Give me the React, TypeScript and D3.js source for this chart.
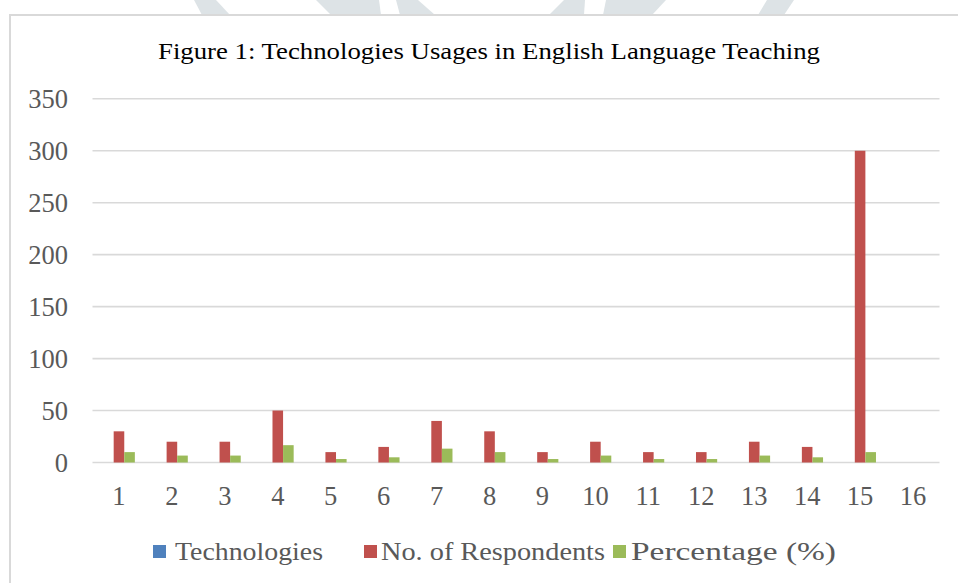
import React from 'react';
import * as d3 from 'd3';

const categories = ['1', '2', '3', '4', '5', '6', '7', '8', '9', '10', '11', '12', '13', '14', '15', '16'];
const seriesNames = ['Technologies', 'No. of Respondents', 'Percentage (%)'];
const seriesColors = ['#4F81BD', '#C0504D', '#9BBB59'];
const technologies = [0, 0, 0, 0, 0, 0, 0, 0, 0, 0, 0, 0, 0, 0, 0, 0];
const respondents = [30, 20, 20, 50, 10, 15, 40, 30, 10, 20, 10, 10, 20, 15, 300, 0];
const percentage = [10, 6.67, 6.67, 16.67, 3.33, 5, 13.33, 10, 3.33, 6.67, 3.33, 3.33, 6.67, 5, 10, 0];
const yTicks = [0, 50, 100, 150, 200, 250, 300, 350];
const title = 'Figure 1: Technologies Usages in English Language Teaching';

// faint watermark pieces peeking above the chart frame
const watermark = [
  [[194, 0], [216, 0], [230, 15], [202, 15]],
  [[316, 0], [379, 0], [381, 15], [331, 15]],
  [[396, 0], [418, 0], [435, 15], [400, 15]],
  [[564, 0], [585, 0], [584, 15], [549, 15]],
  [[606, 0], [666, 0], [652, 15], [603, 15]],
  [[767, 0], [794, 0], [784, 15], [758, 15]],
];

const FONT = '"Liberation Serif", "Times New Roman", serif';

export default function App() {
  const width = 958;
  const height = 583;
  const series = [technologies, respondents, percentage];

  const x = d3.scaleBand().domain(categories).range([92.5, 939.5]).padding(0);
  const x1 = d3
    .scaleBand()
    .domain(seriesNames)
    .range([x.bandwidth() * 0.2, x.bandwidth() * 0.8]);
  const y = d3.scaleLinear().domain([0, 350]).range([462.5, 98.8]);

  const legendItems = [
    { name: seriesNames[0], sx: 153, tx: 175, len: 148 },
    { name: seriesNames[1], sx: 364, tx: 381, len: 224 },
    { name: seriesNames[2], sx: 613, tx: 631, len: 205 },
  ];

  return (
    <svg
      width={width}
      height={height}
      style={{ position: 'absolute', left: 0, top: 0, background: '#fff' }}
    >
      {watermark.map((p, i) => (
        <polygon key={i} points={p.map((q) => q.join(',')).join(' ')} fill="#dde3e6" />
      ))}
      <rect x={10} y={15} width={960} height={580} fill="#fff" stroke="#d9d9d9" strokeWidth={2} />

      <text
        x={158}
        y={59}
        fontFamily={FONT}
        fontSize={23}
        fill="#000"
        textLength={662}
        lengthAdjust="spacingAndGlyphs"
      >
        {title}
      </text>

      {yTicks.map((t) => (
        <g key={t}>
          <line x1={92.5} x2={939.5} y1={y(t)} y2={y(t)} stroke="#d9d9d9" strokeWidth={1.6} />
          <text
            x={68}
            y={y(t) + 9}
            textAnchor="end"
            fontFamily={FONT}
            fontSize={26.5}
            fill="#595959"
          >
            {t}
          </text>
        </g>
      ))}

      {categories.map((c, i) => (
        <g key={c}>
          {series.map((vals, s) =>
            vals[i] > 0 ? (
              <rect
                key={s}
                x={(x(c) as number) + (x1(seriesNames[s]) as number)}
                y={y(vals[i])}
                width={x1.bandwidth()}
                height={y(0) - y(vals[i])}
                fill={seriesColors[s]}
              />
            ) : null
          )}
          <text
            x={(x(c) as number) + x.bandwidth() / 2}
            y={505}
            textAnchor="middle"
            fontFamily={FONT}
            fontSize={26.5}
            fill="#595959"
          >
            {c}
          </text>
        </g>
      ))}

      {legendItems.map((l, i) => (
        <g key={l.name}>
          <rect x={l.sx} y={545} width={13} height={13} fill={seriesColors[i]} />
          <text
            x={l.tx}
            y={560}
            fontFamily={FONT}
            fontSize={26}
            fill="#595959"
            textLength={l.len}
            lengthAdjust="spacingAndGlyphs"
          >
            {l.name}
          </text>
        </g>
      ))}
    </svg>
  );
}
